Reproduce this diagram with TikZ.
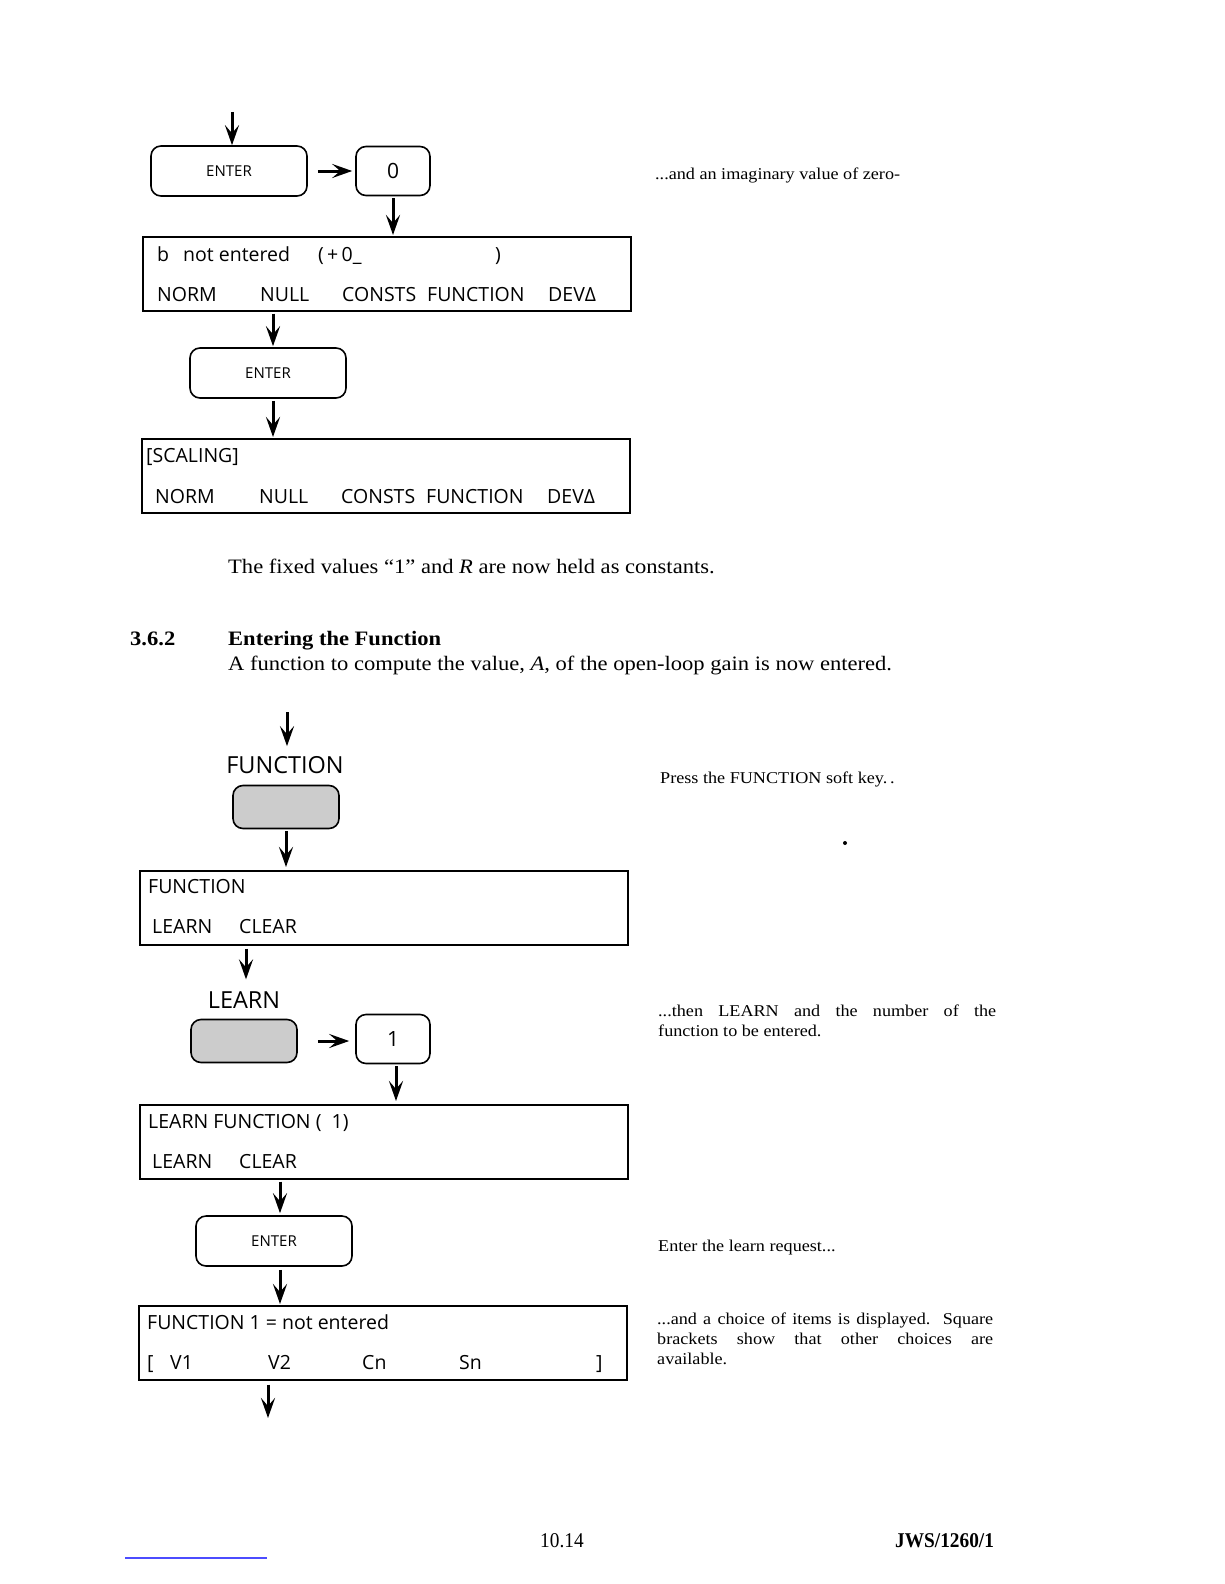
\documentclass[tikz,border=0pt]{standalone}
\usepackage{fontspec}
\setmainfont{Liberation Serif}[FakeStretch=1.1]
\newfontfamily\dispfont{Open Sans}
\newfontfamily\footfont{Liberation Serif}[FakeStretch=0.92]
\usetikzlibrary{arrows.meta}
\begin{document}
\begin{tikzpicture}[x=1pt,y=-1pt,
 arr/.style={-{Stealth[length=20pt,width=14pt,inset=8pt]}, line width=3pt},
 key/.style={draw, line width=1.6pt, rounded corners=10pt, inner sep=0pt},
 entk/.style={key, minimum width=156pt, minimum height=50pt, font=\dispfont\fontsize{15}{18}\selectfont},
 numk/.style={key, minimum width=74pt, minimum height=49pt, font=\dispfont\fontsize{21}{24}\selectfont},
 softk/.style={key, fill=black!20, minimum width=106pt, minimum height=43pt},
 klabel/.style={inner sep=0pt, font=\dispfont\fontsize{23.5}{28}\selectfont},
 disp/.style={draw, line width=1.6pt, inner sep=0pt, anchor=north west, minimum width=488pt, minimum height=74pt},
 dtxt/.style={anchor=base west, inner sep=0pt, font=\dispfont\fontsize{19.5}{24}\selectfont},
 body/.style={anchor=base west, inner sep=0pt, font=\fontsize{20.5}{24}\selectfont},
 note/.style={anchor=base west, inner sep=0pt, font=\fontsize{16.5}{20}\selectfont},
]
\useasboundingbox (0,0) rectangle (1224,1584);

% ---- first part
\coordinate (s1) at (232,112);
\node[entk] (enter1) at (229,171) {ENTER};
\node[numk] (zero) at (393,171) {0};
\node[disp] (disp1) at (142,236) {};
\node[dtxt] (d1a) at (157,261) {b};
\node[dtxt] (d1a2) at (183,261) {not entered};
\node[dtxt] (d1a3) at (318,261) {(\,+\,0\_};
\node[dtxt] (d1b) at (495,261) {)};
\node[dtxt] (d1c) at (157,301) {NORM};
\node[dtxt] (d1d) at (260,301) {NULL};
\node[dtxt] (d1e) at (342,301) {CONSTS};
\node[dtxt] (d1f) at (427,301) {FUNCTION};
\node[dtxt] (d1g) at (548,301) {DEVΔ};

\node[entk] (enter2) at (268,373) {ENTER};
\node[disp] (disp2) at (141,438) {};
\node[dtxt] (d2a) at (146,462) {[SCALING]};
\node[dtxt] (d2c) at (155,503) {NORM};
\node[dtxt] (d2d) at (259,503) {NULL};
\node[dtxt] (d2e) at (341,503) {CONSTS};
\node[dtxt] (d2f) at (426,503) {FUNCTION};
\node[dtxt] (d2g) at (547,503) {DEVΔ};

\draw[arr] (s1) -- (s1 |- enter1.north);
\draw[arr, shorten <=10pt, shorten >=3pt] (enter1.east) -- (zero.west);
\draw[arr, shorten <=2pt, shorten >=1pt] (zero.south) -- (zero.south |- disp1.north);
\draw[arr, shorten <=2pt, shorten >=1pt] ([xshift=5pt]enter2.north |- disp1.south) -- ([xshift=5pt]enter2.north);
\draw[arr, shorten <=2pt, shorten >=1pt] ([xshift=5pt]enter2.south) -- ([xshift=5pt]enter2.south |- disp2.north);

\node[note] (n1) at (655,179) {...and an imaginary value of zero-};

% ---- body text
\node[body] (t1) at (228,573) {The fixed values ``1'' and \textit{R} are now held as constants.};
\node[body, font=\bfseries\fontsize{20.5}{24}\selectfont] (h1) at (130,645) {3.6.2};
\node[body, font=\bfseries\fontsize{20.5}{24}\selectfont] (h2) at (228,645) {Entering the Function};
\node[body] (t2) at (228,670) {A function to compute the value, \textit{A}, of the open-loop gain is now entered.};

% ---- second part
\coordinate (s2) at (287,712);
\node[klabel] (fnlab) at (285,765) {FUNCTION};
\node[softk] (fnkey) at (286,807) {};
\node[disp] (disp3) at (139,870) {};
\node[dtxt] (d3a) at (148,893) {FUNCTION};
\node[dtxt] (d3b) at (152,933) {LEARN};
\node[dtxt] (d3c) at (239,933) {CLEAR};

\node[klabel] (lnlab) at (244,1000) {LEARN};
\node[softk] (lnkey) at (244,1041) {};
\node[numk] (one) at (393,1039) {1};
\node[disp] (disp4) at (139,1104) {};
\node[dtxt] (d4a) at (148,1128) {LEARN FUNCTION (\ \ 1)};
\node[dtxt] (d4b) at (152,1168) {LEARN};
\node[dtxt] (d4c) at (239,1168) {CLEAR};

\node[entk] (enter3) at (274,1241) {ENTER};
\node[disp] (disp5) at (138,1305) {};
\node[dtxt] (d5a) at (147,1329) {FUNCTION 1 = not entered};
\node[dtxt] (d5b) at (147,1369) {[};
\node[dtxt] (d5c) at (170,1369) {V1};
\node[dtxt] (d5d) at (268,1369) {V2};
\node[dtxt] (d5e) at (362,1369) {Cn};
\node[dtxt] (d5f) at (459,1369) {Sn};
\node[dtxt] (d5g) at (596,1369) {]};
\coordinate (e1) at (268,1418);

\draw[arr, shorten >=10pt] (s2) -- (s2 |- fnlab.north);
\draw[arr, shorten <=2pt, shorten >=3pt] (fnkey.south) -- (fnkey.south |- disp3.north);
\draw[arr, shorten <=3pt, shorten >=12pt] ([xshift=2pt]lnlab.north |- disp3.south) -- ([xshift=2pt]lnlab.north);
\draw[arr, shorten <=20pt, shorten >=6pt] (lnkey.east) -- (one.west |- lnkey.east);
\draw[arr, shorten <=2pt, shorten >=3pt] ([xshift=3pt]one.south) -- ([xshift=3pt]one.south |- disp4.north);
\draw[arr, shorten <=2pt, shorten >=2pt] ([xshift=6pt]enter3.north |- disp4.south) -- ([xshift=6pt]enter3.north);
\draw[arr, shorten <=3pt, shorten >=1pt] ([xshift=6pt]enter3.south) -- ([xshift=6pt]enter3.south |- disp5.north);
\draw[arr, shorten <=4pt] (e1 |- disp5.south) -- (e1);

% ---- side notes
\node[note] (n2) at (660,783) {Press the FUNCTION soft key.\,.};
\node[note] (n3a) at (658,1016) {\makebox[338pt][s]{...then LEARN and the number of the}};
\node[note] (n3b) at (658,1036) {function to be entered.};
\node[note] (n4) at (658,1251) {Enter the learn request...};
\node[note] (n5a) at (657,1324) {\makebox[336pt][s]{...and a choice of items is displayed.\ \ Square}};
\node[note] (n5b) at (657,1344) {\makebox[336pt][s]{brackets show that other choices are}};
\node[note] (n5c) at (657,1364) {available.};
\fill (845,843) circle (2pt);

% ---- footer
\node[body, font=\footfont\fontsize{21}{24}\selectfont] (f1) at (540,1547) {10.14};
\node[body, font=\footfont\bfseries\fontsize{21}{24}\selectfont] (f2) at (895,1547) {JWS/1260/1};
\coordinate (bl1) at (125,1558);
\coordinate (bl2) at (267,1558);
\draw[line width=1.5pt, color=blue!70!white] (bl1) -- (bl2);
\end{tikzpicture}
\end{document}
